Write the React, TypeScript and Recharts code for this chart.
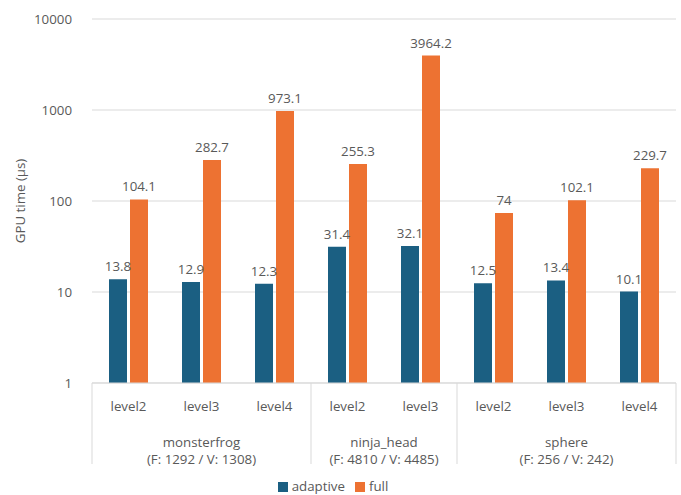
import { BarChart, Bar, XAxis, YAxis, CartesianGrid, Legend, LabelList } from "recharts";

const levels = ["level2", "level3", "level4", "level2", "level3", "level2", "level3", "level4"];
const groupOf = [0, 0, 0, 1, 1, 2, 2, 2];
const groupNames = ["monsterfrog", "ninja_head", "sphere"];
const groupInfo = ["(F: 1292 / V: 1308)", "(F: 4810 / V: 4485)", "(F: 256 / V: 242)"];
const adaptive = [13.8, 12.9, 12.3, 31.4, 32.1, 12.5, 13.4, 10.1];
const full = [104.1, 282.7, 973.1, 255.3, 3964.2, 74, 102.1, 229.7];
const yTicks = [1, 10, 100, 1000, 10000];

const W = 681;
const H = 495;
const Y_AXIS_W = 92;
const RIGHT = 5;
const FONT = "'Open Sans', 'Noto Sans', sans-serif";
const FS = 13.3;
const TEXT = "#595959";
const LINE = "#d9d9d9";

const data = levels.map((lvl, i) => ({
  key: `${groupNames[groupOf[i]]}-${lvl}`,
  adaptive: adaptive[i],
  full: full[i],
}));

const bandW = (W - Y_AXIS_W - RIGHT) / levels.length;

// level label + group label + separators, all hung off the category ticks
const CategoryTick = (props: any) => {
  const { x, y, index } = props;
  const g = groupOf[index];
  const first = index === 0 || groupOf[index - 1] !== g;
  const last = index === levels.length - 1;
  const count = groupOf.filter((v) => v === g).length;
  const cx = x + ((count - 1) / 2) * bandW;
  return (
    <g>
      <text x={x} y={y + 28} textAnchor="middle" fill={TEXT} fontSize={FS} fontFamily={FONT}>
        {levels[index]}
      </text>
      {first && (
        <>
          <line x1={x - bandW / 2} x2={x - bandW / 2} y1={y} y2={y + 81} stroke={LINE} />
          <text x={cx} y={y + 64} textAnchor="middle" fill={TEXT} fontSize={FS} fontFamily={FONT}>
            {groupNames[g]}
          </text>
          <text x={cx} y={y + 81} textAnchor="middle" fill={TEXT} fontSize={FS} fontFamily={FONT}>
            {groupInfo[g]}
          </text>
        </>
      )}
      {last && <line x1={x + bandW / 2} x2={x + bandW / 2} y1={y} y2={y + 81} stroke={LINE} />}
    </g>
  );
};

const YLabel = (props: any) => {
  const { viewBox } = props;
  const cy = viewBox.y + viewBox.height / 2;
  return (
    <text
      x={20}
      y={cy}
      transform={`rotate(-90 20 ${cy})`}
      textAnchor="middle"
      dominantBaseline="central"
      fill={TEXT}
      fontSize={FS}
      fontFamily={FONT}
    >
      GPU time (µs)
    </text>
  );
};

export default function App() {
  return (
    <div style={{ position: "absolute", left: 0, top: 0, background: "#fff" }}>
      <BarChart
        width={W}
        height={H}
        data={data}
        margin={{ top: 19, right: RIGHT, left: 0, bottom: 0 }}
        barGap={3}
        barSize={18}
      >
        <CartesianGrid vertical={false} stroke={LINE} />
        <XAxis
          dataKey="key"
          interval={0}
          tickSize={0}
          tickMargin={0}
          height={94}
          axisLine={{ stroke: LINE }}
          tickLine={false}
          tick={<CategoryTick />}
        />
        <YAxis
          scale="log"
          domain={[1, 10000]}
          ticks={yTicks}
          allowDataOverflow
          width={Y_AXIS_W}
          axisLine={false}
          tickLine={false}
          tickSize={0}
          tickMargin={20}
          tick={{ fill: TEXT, fontSize: FS, fontFamily: FONT }}
          label={<YLabel />}
        />
        <Legend
          verticalAlign="bottom"
          iconType="square"
          iconSize={10}
          wrapperStyle={{ fontSize: FS, fontFamily: FONT }}
          formatter={(v: string) => <span style={{ color: TEXT }}>{v}</span>}
        />
        <Bar dataKey="adaptive" name="adaptive" fill="#1b5f82" isAnimationActive={false}>
          <LabelList dataKey="adaptive" position="top" offset={8} fill={TEXT} fontSize={FS} fontFamily={FONT} />
        </Bar>
        <Bar dataKey="full" name="full" fill="#ed7232" isAnimationActive={false}>
          <LabelList dataKey="full" position="top" offset={8} fill={TEXT} fontSize={FS} fontFamily={FONT} />
        </Bar>
      </BarChart>
    </div>
  );
}
